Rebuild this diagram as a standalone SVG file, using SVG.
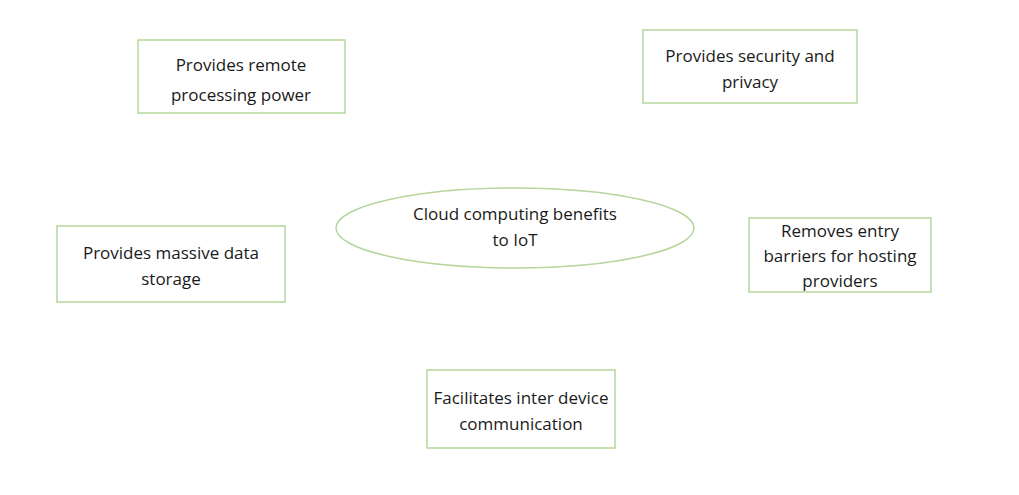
<svg xmlns="http://www.w3.org/2000/svg" width="1019" height="495" viewBox="0 0 1019 495">
<style>
.box{fill:#fff;stroke:#b5d69c;stroke-width:1.5}
.t{font-family:"Open Sans","Noto Sans",sans-serif;font-size:17px;fill:#1a1a1a;text-anchor:middle}
</style>
<rect width="1019" height="495" fill="#fff"/>
<g id="connectors"></g>
<g id="center">
<ellipse class="box" cx="515" cy="228" rx="179" ry="40"/>
<text class="t" x="515" y="220">Cloud computing benefits</text>
<text class="t" x="515" y="246">to IoT</text>
</g>
<g id="n1">
<rect class="box" x="138" y="40" width="207" height="73"/>
<text class="t" x="241" y="71">Provides remote</text>
<text class="t" x="241" y="101">processing power</text>
</g>
<g id="n2">
<rect class="box" x="643" y="30" width="214" height="73"/>
<text class="t" x="750" y="62">Provides security and</text>
<text class="t" x="750" y="88">privacy</text>
</g>
<g id="n3">
<rect class="box" x="57" y="226" width="228" height="76"/>
<text class="t" x="171" y="259">Provides massive data</text>
<text class="t" x="171" y="285">storage</text>
</g>
<g id="n4">
<rect class="box" x="749" y="218" width="182" height="74"/>
<text class="t" x="840" y="237">Removes entry</text>
<text class="t" x="840" y="262">barriers for hosting</text>
<text class="t" x="840" y="287">providers</text>
</g>
<g id="n5">
<rect class="box" x="427" y="370" width="188" height="78"/>
<text class="t" x="521" y="404">Facilitates inter device</text>
<text class="t" x="521" y="430">communication</text>
</g>
</svg>
